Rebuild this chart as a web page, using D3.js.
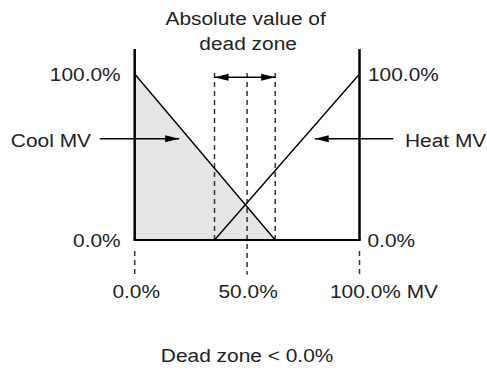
<!DOCTYPE html>
<html>
<head>
<meta charset="utf-8">
<script src="https://cdn.jsdelivr.net/npm/d3@7"></script>
<style>
  html, body { margin: 0; padding: 0; background: #fff; }
  svg { display: block; }
  text { font-family: "Liberation Sans", Arial, sans-serif; font-size: 19px; fill: #222; }
</style>
</head>
<body>
<script>
// Split-range output (heat/cool) with a negative dead zone
const xTicks = [0, 50, 100];                 // MV input, %
const xTickLabels = ["0.0%", "50.0%", "100.0% MV"];
const yLabels = ["0.0%", "100.0%"];           // output levels, %
const coolLine = [[0, 100], [62.5, 0]];       // Cool MV output
const heatLine = [[35.5, 0], [100, 100]];     // Heat MV output
const deadZone = [35.5, 62.5];                // overlap bounds, %
const deadZoneCenter = 50;
const titleLines = ["Absolute value of", "dead zone"];
const caption = "Dead zone < 0.0%";

const W = 487, H = 372;
const x = d3.scaleLinear().domain([0, 100]).range([134.7, 359.5]);
const y = d3.scaleLinear().domain([0, 100]).range([240, 74]);

const svg = d3.select("body").append("svg").attr("width", W).attr("height", H);

const defs = svg.append("defs");
defs.append("marker")
  .attr("id", "head")
  .attr("viewBox", "0 0 14 8")
  .attr("refX", 14).attr("refY", 4)
  .attr("markerWidth", 14).attr("markerHeight", 8)
  .attr("markerUnits", "userSpaceOnUse")
  .attr("orient", "auto-start-reverse")
  .append("path").attr("d", "M0,0.5 L14,4 L0,7.5 Z").attr("fill", "#000");

const line = d3.line().x(d => x(d[0])).y(d => y(d[1]));

// shaded area under the cool output
svg.append("path")
  .attr("d", line([[0, 0], ...coolLine, [0, 0]]))
  .attr("fill", "#e5e5e5");

// dead-zone guides and tick guides
const dash = "5,4";
const guideTop = y(100) - 1;
deadZone.forEach(v => {
  svg.append("line")
    .attr("x1", x(v)).attr("x2", x(v))
    .attr("y1", guideTop).attr("y2", y(0))
    .attr("stroke", "#333").attr("stroke-width", 1.5).attr("stroke-dasharray", dash);
});
svg.append("line")
  .attr("x1", x(deadZoneCenter)).attr("x2", x(deadZoneCenter))
  .attr("y1", guideTop).attr("y2", y(-21))
  .attr("stroke", "#333").attr("stroke-width", 1.5).attr("stroke-dasharray", dash);
xTicks.filter(v => v !== deadZoneCenter).forEach(v => {
  svg.append("line")
    .attr("x1", x(v)).attr("x2", x(v))
    .attr("y1", y(0) + 11).attr("y2", y(-21))
    .attr("stroke", "#333").attr("stroke-width", 1.5).attr("stroke-dasharray", "5,4");
});

// output lines
[coolLine, heatLine].forEach(seg => {
  svg.append("path").attr("d", line(seg))
    .attr("fill", "none").attr("stroke", "#000").attr("stroke-width", 1.4);
});

// frame: two vertical axes and baseline
svg.append("line")
  .attr("x1", x(0)).attr("x2", x(0)).attr("y1", y(115)).attr("y2", y(0))
  .attr("stroke", "#000").attr("stroke-width", 2.5);
svg.append("line")
  .attr("x1", x(100)).attr("x2", x(100)).attr("y1", y(115)).attr("y2", y(0))
  .attr("stroke", "#000").attr("stroke-width", 2.5);
svg.append("line")
  .attr("x1", x(0) - 1.2).attr("x2", x(100) + 1.2).attr("y1", y(0)).attr("y2", y(0))
  .attr("stroke", "#000").attr("stroke-width", 2.2);

// dead-zone width arrow
svg.append("line")
  .attr("x1", x(deadZone[0])).attr("x2", x(deadZone[1]))
  .attr("y1", y(98)).attr("y2", y(98))
  .attr("stroke", "#000").attr("stroke-width", 1.4)
  .attr("marker-start", "url(#head)").attr("marker-end", "url(#head)");

// pointer arrows for the two outputs
svg.append("line")
  .attr("x1", x(-15.5)).attr("x2", x(19.8)).attr("y1", y(61)).attr("y2", y(61))
  .attr("stroke", "#000").attr("stroke-width", 1.4).attr("marker-end", "url(#head)");
svg.append("line")
  .attr("x1", x(115)).attr("x2", x(80.1)).attr("y1", y(61)).attr("y2", y(61))
  .attr("stroke", "#000").attr("stroke-width", 1.4).attr("marker-end", "url(#head)");

// text helper (slightly widened glyphs)
function label(px, py, str, anchor) {
  svg.append("text")
    .attr("transform", `translate(${px},${py}) scale(1.1,1)`)
    .attr("text-anchor", anchor)
    .text(str);
}

label(x(deadZoneCenter) - 1.5, 25, titleLines[0], "middle");
label(x(deadZoneCenter) + 1, 50, titleLines[1], "middle");

label(x(0) - 14, y(100) + 7, yLabels[1], "end");
label(x(0) - 14, y(0) + 7, yLabels[0], "end");
label(x(100) + 8.5, y(100) + 7, yLabels[1], "start");
label(x(100) + 8, y(0) + 7, yLabels[0], "start");

label(91, y(61) + 8, "Cool MV", "end");
label(405, y(61) + 8.5, "Heat MV", "start");

label(x(xTicks[0]) + 1.5, 298, xTickLabels[0], "middle");
label(x(xTicks[1]) + 1, 298, xTickLabels[1], "middle");
label(330, 298, xTickLabels[2], "start");

label(x(deadZoneCenter), 362, caption, "middle");
</script>
</body>
</html>
